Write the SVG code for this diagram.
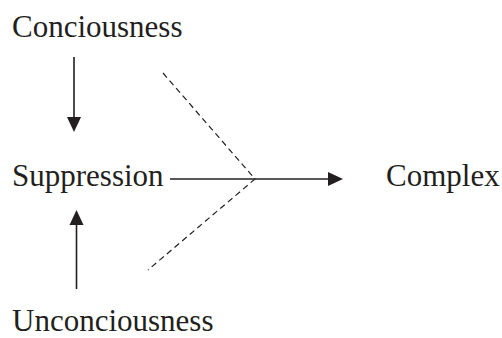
<svg xmlns="http://www.w3.org/2000/svg" width="502" height="338" viewBox="0 0 502 338">
<style>
text{font-family:"Liberation Serif","Times New Roman",serif;font-size:31px;fill:#231f20}
.ln{stroke:#231f20;stroke-width:1.6;fill:none}
.ds{stroke:#231f20;stroke-width:1.2;fill:none;stroke-dasharray:6 4}
.ah{fill:#231f20}
</style>
<rect width="502" height="338" fill="#fff"/>
<g id="consciousness"><text x="12" y="37">Conciousness</text></g>
<g id="suppression"><text x="12" y="186">Suppression</text></g>
<g id="complex"><text x="386" y="186">Complex</text></g>
<g id="unconsciousness"><text x="12" y="331">Unconciousness</text></g>
<g id="connectors">
<line class="ln" x1="74" y1="57" x2="74" y2="118"/>
<polygon class="ah" points="67,117 81,117 74,132"/>
<line class="ln" x1="76.5" y1="289" x2="76.5" y2="224"/>
<polygon class="ah" points="69.5,225 83.5,225 76.5,210"/>
<line class="ln" x1="170" y1="179" x2="330" y2="179"/>
<polygon class="ah" points="328,172 343,179 328,186"/>
<polyline class="ds" points="163,73 255,179 148,270"/>
</g>
</svg>
